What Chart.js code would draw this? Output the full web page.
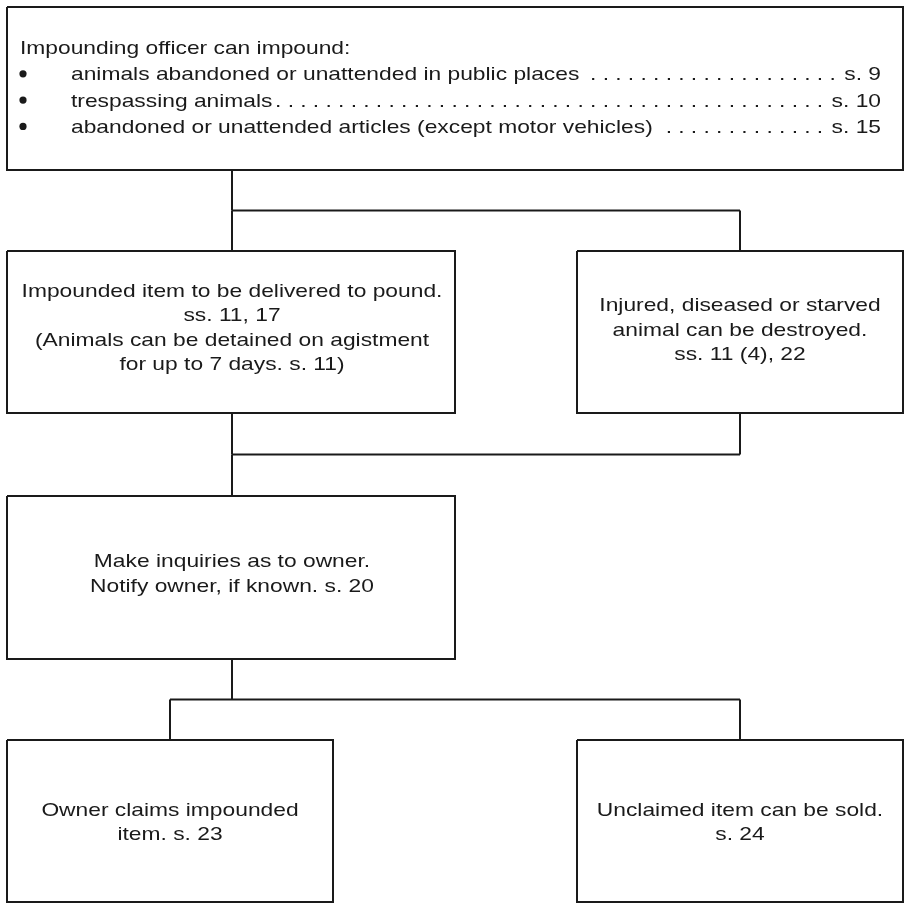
<!DOCTYPE html>
<html lang="en">
<head>
    <meta charset="UTF-8">
    <title>Impounding flowchart</title>
    <style>
        body { margin: 0; background: #fff; }
        #wrap { position: relative; width: 906px; height: 903px; }
    </style>
</head>
<body>
    <div id="wrap"><canvas id="myChart"></canvas></div>

    <script src="https://cdn.jsdelivr.net/npm/chart.js"></script>
    <script>
        // Texts of the flowchart
        const introLine = 'Impounding officer can impound:';
        const bulletItems = [
            'animals abandoned or unattended in public places',
            'trespassing animals',
            'abandoned or unattended articles (except motor vehicles)'
        ];
        const bulletRefs = ['s. 9', 's. 10', 's. 15'];

        const boxLines = [
            [],  // top box, filled from introLine / bulletItems
            ['Impounded item to be delivered to pound.', 'ss. 11, 17', '(Animals can be detained on agistment', 'for up to 7 days. s. 11)'],
            ['Injured, diseased or starved', 'animal can be destroyed.', 'ss. 11 (4), 22'],
            ['Make inquiries as to owner.', 'Notify owner, if known. s. 20'],
            ['Owner claims impounded', 'item. s. 23'],
            ['Unclaimed item can be sold.', 's. 24']
        ];

        // which boxes lead to which
        const links = [
            [[0], [1, 2]],
            [[1, 2], [3]],
            [[3], [4, 5]]
        ];

        // box outlines in chart units (x: 0..906, y: 0..903 from top)
        const boxLeft   = [7, 7, 577, 7, 7, 577];
        const boxRight  = [903, 455, 903, 455, 333, 903];
        const boxTop    = [7, 251, 251, 496, 740, 740];
        const boxBottom = [170, 413, 413, 659, 902, 902];
        const anchorX   = [232, 232, 740, 232, 170, 740];
        const textX     = [20, 232, 740, 232, 170, 740];
        const textShift = [0, 1.5, 3.5, 2, 7, 7];

        const ink = '#1a1a1a';
        const font = '19px "Liberation Sans", Arial, sans-serif';
        const stretch = 1.2;   // the source lettering is a little wide

        // one closed line per box
        const datasets = [];
        boxLeft.forEach((l, i) => {
            datasets.push({
                data: [
                    {x: l, y: boxTop[i]}, {x: boxRight[i], y: boxTop[i]},
                    {x: boxRight[i], y: boxBottom[i]}, {x: l, y: boxBottom[i]},
                    {x: l, y: boxTop[i]}
                ]
            });
        });

        // connectors: every link gets a bus halfway between the rows
        links.forEach(([from, to]) => {
            const busY = (boxBottom[from[0]] + boxTop[to[0]]) / 2;
            from.forEach(f => datasets.push({data: [{x: anchorX[f], y: boxBottom[f]}, {x: anchorX[f], y: busY}]}));
            to.forEach(t => datasets.push({data: [{x: anchorX[t], y: busY}, {x: anchorX[t], y: boxTop[t]}]}));
            const xs = from.concat(to).map(i => anchorX[i]);
            datasets.push({data: [{x: Math.min(...xs), y: busY}, {x: Math.max(...xs), y: busY}]});
        });

        datasets.forEach(ds => Object.assign(ds, {
            showLine: true, borderColor: ink, borderWidth: 2, pointRadius: 0,
            fill: false, tension: 0, clip: false, borderJoinStyle: 'miter'
        }));

        function drawText(ctx, t, px, py, align) {
            ctx.save();
            ctx.translate(px, py);
            ctx.scale(stretch, 1);
            ctx.textAlign = align;
            ctx.fillText(t, 0, 0);
            ctx.restore();
            return ctx.measureText(t).width * stretch;
        }

        // texts are placed through the scales too
        const boxText = {
            id: 'boxText',
            afterDatasetsDraw(chart) {
                const {ctx, scales: {x, y}} = chart;
                ctx.save();
                ctx.font = font;
                ctx.fillStyle = ink;
                ctx.textBaseline = 'alphabetic';

                // top box: intro + bullets with dot leaders
                const lh0 = 26.3;
                const by = 54;
                drawText(ctx, introLine, x.getPixelForValue(textX[0]), y.getPixelForValue(by), 'left');
                bulletItems.forEach((item, i) => {
                    const base = y.getPixelForValue(by + lh0 * (i + 1));
                    ctx.beginPath();
                    ctx.arc(x.getPixelForValue(23), base - 6.5, 3.6, 0, Math.PI * 2);
                    ctx.fill();
                    const tx = x.getPixelForValue(71);
                    const textEnd = tx + drawText(ctx, item, tx, base, 'left');
                    const rx = x.getPixelForValue(881);
                    const refStart = rx - drawText(ctx, bulletRefs[i], rx, base, 'right');
                    // leader dots sit on a fixed tab grid
                    const step = 12.6, origin = 1;
                    let d = origin + Math.ceil((textEnd + 4 - origin) / step) * step;
                    for (; d < refStart - 5; d += step) drawText(ctx, '.', d, base, 'center');
                });

                // the other boxes: centred lines
                const lh = 24.2;
                boxLines.forEach((lines, i) => {
                    if (!lines.length) return;
                    const cx = x.getPixelForValue(textX[i]);
                    const cy = (boxTop[i] + boxBottom[i]) / 2 + textShift[i];
                    const first = cy - (lines.length - 1) * lh / 2;
                    lines.forEach((t, k) => drawText(ctx, t, cx, y.getPixelForValue(first + k * lh), 'center'));
                });
                ctx.restore();
            }
        };

        const config = {
            type: 'scatter',
            data: {datasets: datasets},
            options: {
                responsive: true,
                maintainAspectRatio: false,
                animation: false,
                layout: {padding: 0},
                scales: {
                    x: {type: 'linear', min: 0, max: 906, display: false},
                    y: {type: 'linear', min: 0, max: 903, reverse: true, display: false}
                },
                plugins: {legend: {display: false}, tooltip: {enabled: false}}
            },
            plugins: [boxText]
        };

        const ctx = document.getElementById('myChart').getContext('2d');
        new Chart(ctx, config);
    </script>
</body>
</html>
